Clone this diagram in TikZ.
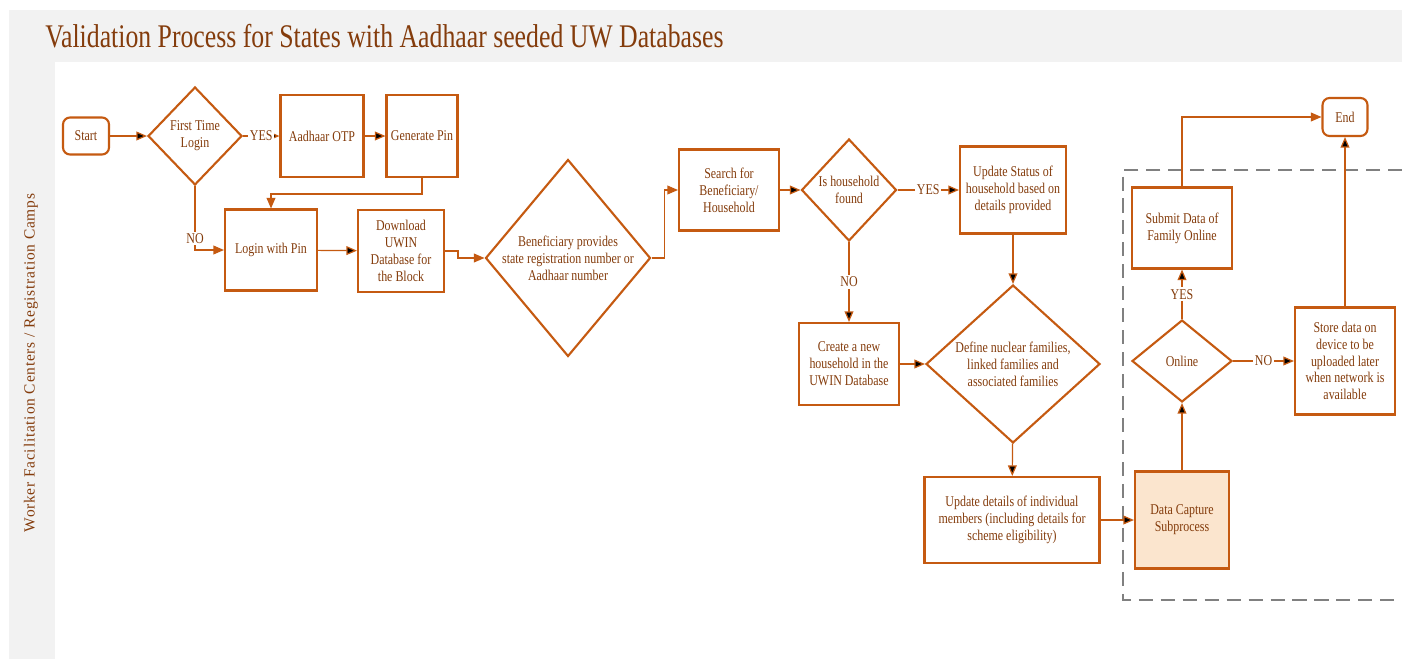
\documentclass[tikz,border=0pt]{standalone}
\usepackage{fontspec}
\setmainfont{Liberation Serif}
\newfontfamily\narrowfont{Liberation Serif}[FakeStretch=0.8]
\newfontfamily\titlefont{Liberation Serif}[FakeStretch=0.78]
\newfontfamily\sidefont{Liberation Serif}[LetterSpace=5]
\usepackage{tikz}
\usetikzlibrary{arrows.meta,positioning,calc,shapes.geometric}

\definecolor{uline}{HTML}{C55A11}
\definecolor{utext}{HTML}{843C0C}
\definecolor{ufill}{HTML}{FBE5CE}
\definecolor{upanel}{HTML}{F2F2F2}
\definecolor{udash}{HTML}{808080}

\tikzset{
  box/.style={rectangle, draw=uline, line width=1.2pt, text=utext, align=center, inner sep=1pt,
    font=\narrowfont\fontsize{8.5}{9.6}\selectfont},
  term/.style={box, rounded corners=4pt},
  dec/.style={diamond, draw=uline, line width=1.2pt, inner sep=0pt,
    label={[text=utext, align=center, font=\narrowfont\fontsize{8.5}{9.6}\selectfont]center:#1}},
  flow/.style={draw=uline, line width=0.7pt, -{Triangle[length=6pt,width=5pt]}},
  tag/.style={fill=white, text=utext, inner sep=1pt, font=\narrowfont\fontsize{8.5}{9.6}\selectfont}
}

\begin{document}
\begin{tikzpicture}[x=0.02cm, y=-0.02cm]
  \useasboundingbox (0,0) rectangle (1402,659);
  % panel
  \fill[upanel] (9,10) rectangle (1402,659);
  \fill[white] (55,62) rectangle (1402,659);
  \node (title) [anchor=west, text=utext, inner sep=0pt, font=\titlefont\fontsize{18.8}{22}\selectfont] at (45,36) {Validation Process for States with Aadhaar seeded UW Databases};
  \node (lane) [rotate=90, text=utext, inner sep=0pt, font=\sidefont\fontsize{8.8}{11}\selectfont] at (31,363) {Worker Facilitation Centers / Registration Camps};

  % subprocess frame
  \draw[udash, line width=1.2pt, dash pattern=on 8pt off 4.5pt] (1402,170) -| (1123,600) -- (1402,600);

  % steps
  \node (start) [term, minimum width=0.92cm, minimum height=0.74cm] at (86,136) {Start};
  \node (ftl) [dec={First Time\\Login}, minimum width=1.88cm, minimum height=1.96cm] at (195,136) {};
  \node (otp) [box, minimum width=1.66cm, minimum height=1.64cm] at (322,136) {Aadhaar OTP};
  \node (gpin) [box, minimum width=1.42cm, minimum height=1.64cm] at (422,136) {Generate Pin};
  \node (login) [box, minimum width=1.84cm, minimum height=1.62cm] at (271,250) {Login with Pin};
  \node (dl) [box, minimum width=1.72cm, minimum height=1.64cm] at (401,251) {Download\\UWIN\\Database for\\the Block};
  \node (bene) [dec={Beneficiary provides\\state registration number or\\Aadhaar number}, minimum width=3.3cm, minimum height=3.94cm] at (568,258) {};
  \node (search) [box, minimum width=2cm, minimum height=1.62cm] at (729,190) {Search for\\Beneficiary/\\Household};
  \node (ihf) [dec={Is household\\found}, minimum width=1.9cm, minimum height=2.04cm] at (849,190) {};
  \node (ustat) [box, minimum width=2.12cm, minimum height=1.74cm] at (1013,190) {Update Status of\\household based on\\details provided};
  \node (create) [box, minimum width=2cm, minimum height=1.64cm] at (849,364) {Create a new\\household in the\\UWIN Database};
  \node (define) [dec={Define nuclear families,\\linked families and\\associated families}, minimum width=3.48cm, minimum height=3.16cm] at (1013,364) {};
  \node (udet) [box, minimum width=3.5cm, minimum height=1.72cm] at (1012,520) {Update details of individual\\members (including details for\\scheme eligibility)};
  \node (dcap) [box, fill=ufill, minimum width=1.88cm, minimum height=1.94cm] at (1182,520) {Data Capture\\Subprocess};
  \node (online) [dec={Online}, minimum width=2cm, minimum height=1.64cm] at (1182,361) {};
  \node (submit) [box, minimum width=2cm, minimum height=1.62cm] at (1182,228) {Submit Data of\\Family Online};
  \node (store) [box, minimum width=2cm, minimum height=2.14cm] at (1345,361) {Store data on\\device to be\\uploaded later\\when network is\\available};
  \node (end) [term, minimum width=0.9cm, minimum height=0.76cm] at (1345,117) {End};

  % connectors
  \path [flow]
  (start) edge (ftl)
  (ftl) edge node [tag]{YES} (otp)
  (otp) edge (gpin)
  (login) edge (dl)
  (search) edge (ihf)
  (ihf) edge node [tag]{YES} (ustat)
  (ihf) edge node [tag]{NO} (create)
  (ustat) edge (define)
  (create) edge (define)
  (define) edge (udet)
  (udet) edge (dcap)
  (dcap) edge (online)
  (online) edge node [tag]{YES} (submit)
  (online) edge node [tag]{NO} (store)
  (store) edge (end);
  \draw[flow] (gpin.south) -- ++(0,16) -| (login.north);
  \draw[flow] (ftl.south) |- node [tag, pos=0.41]{NO} (login.west);
  \draw[flow] (dl.east) -- ++(13,0) |- (bene.west);
  \draw[flow] (bene.east) -- ++(13,0) |- (search.west);
  \draw[flow] (submit.north) |- (end.west);
\end{tikzpicture}
\end{document}
